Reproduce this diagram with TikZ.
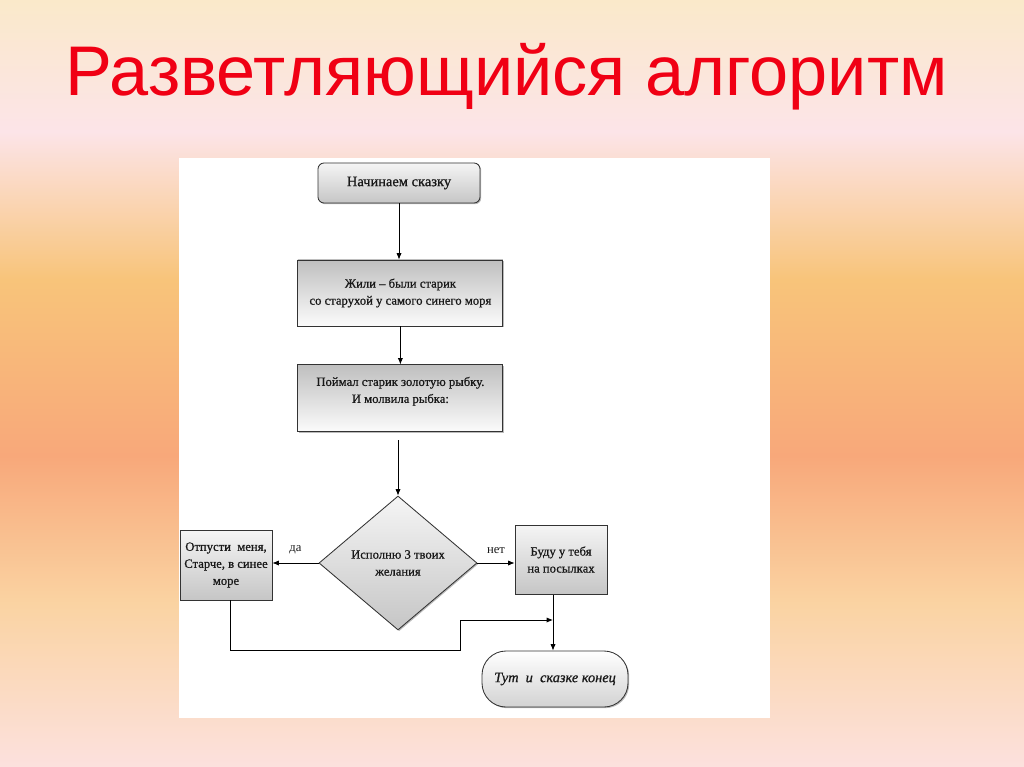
\documentclass[tikz,border=0pt]{standalone}
\usepackage{fontspec}
\setmainfont{Liberation Serif}
\newfontfamily\boxfont[FakeBold=0.8]{Liberation Serif}
\newfontfamily\titlefont{Liberation Sans}
\usetikzlibrary{shapes.geometric,arrows.meta,shadows}
\definecolor{bgtop}{RGB}{250,233,202}
\definecolor{bgpink}{RGB}{252,228,232}
\definecolor{bggold}{RGB}{248,196,122}
\definecolor{bgsalmon}{RGB}{248,168,122}
\definecolor{bgpeach}{RGB}{250,211,162}
\definecolor{bgbot}{RGB}{252,225,222}
\definecolor{titlered}{RGB}{240,0,20}
\pgfdeclareverticalshading{slidebg}{100bp}{color(0bp)=(bgbot); color(25bp)=(bgbot); color(35.7bp)=(bgpeach); color(45.3bp)=(bgsalmon); color(56.8bp)=(bggold); color(66.4bp)=(bgpink); color(75bp)=(bgtop); color(100bp)=(bgtop)}
\tikzset{
  boxtext/.style={font=\boxfont\fontsize{9}{12.1}\selectfont, align=center, text=black!90},
  stepbox/.style={boxtext, rectangle, draw=black!80, line width=0.6pt, inner sep=2pt,
    drop shadow={shadow xshift=0.03cm, shadow yshift=-0.03cm, fill=black!45, opacity=.6}},
  lightdown/.style={top color=gray!8, bottom color=gray!45},
  darkdown/.style={top color=gray!50, bottom color=gray!3},
  flow/.style={line width=0.6pt, -{Latex[length=1.6mm,width=1.3mm]}}
}
\begin{document}
\begin{tikzpicture}
  \fill[shading=slidebg] (0,0) rectangle (25.6,-19.175);
  \fill[white] (4.475,-3.95) rectangle (19.25,-17.95);
  \node[text=titlered, font=\titlefont\fontsize{50}{60}\selectfont, anchor=base] (title) at (12.66,-2.38) {Разветляющийся алгоритм};

  \node[stepbox, lightdown, rounded corners=0.15cm, minimum width=4.05cm, minimum height=1cm, font=\boxfont\fontsize{10.3}{12.1}\selectfont] (start) at (9.975,-4.575) {Начинаем сказку};
  \node[stepbox, darkdown, minimum width=5.125cm, minimum height=1.65cm] (tale) at (10.01,-7.325) {Жили – были старик\\со старухой у самого синего моря};
  \node[stepbox, darkdown, minimum width=5.125cm, minimum height=1.675cm] (fish) at (10.01,-9.96) {Поймал старик золотую рыбку.\\И молвила рыбка:\\ ~};
  \node[stepbox, diamond, lightdown, inner sep=0pt, minimum width=3.95cm, minimum height=3.35cm] (wish) at (9.95,-14.075) {Исполню 3 твоих\\желания};
  \node[stepbox, lightdown, minimum width=2.3cm, minimum height=1.75cm] (free) at (5.65,-14.125) {Отпусти\ \ меня,\\Старче, в синее\\море};
  \node[stepbox, lightdown, minimum width=2.3cm, minimum height=1.725cm] (serve) at (14.025,-13.99) {Буду у тебя\\на посылках};
  \node[stepbox, top color=white, bottom color=gray!35, rounded corners=0.6cm, minimum width=3.65cm, minimum height=1.4cm, font=\boxfont\fontsize{10.2}{12.1}\selectfont\itshape] (finish) at (13.875,-16.975) {Тут\ \ и\ \ сказке конец};
  \coordinate (merge) at (13.825,-15.5);

  \draw[flow] (start.south) -- (start.south |- tale.north);
  \draw[flow] (tale) -- (fish);
  \draw[flow, shorten <=0.2cm] (wish.north |- fish.south) -- (wish.north);
  \draw[flow] (wish.west) -- (wish.west -| free.east) node[midway, above=3pt, boxtext, font=\fontsize{9}{12.1}\selectfont] {да};
  \draw[flow] (wish.east) -- (wish.east -| serve.west) node[midway, above=3pt, boxtext, font=\fontsize{9}{12.1}\selectfont] {нет};
  \draw[flow] (merge |- serve.south) -- (merge |- finish.north);
  \draw[flow] ([xshift=0.1cm]free.south) -- ++(0,-1.25) -| (11.5,-15.5) -- (merge);
\end{tikzpicture}
\end{document}
